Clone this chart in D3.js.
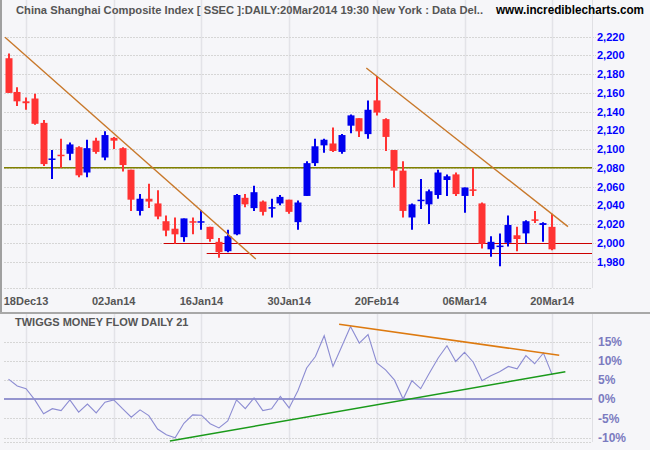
<!DOCTYPE html>
<html>
<head>
<meta charset="utf-8">
<script src="https://cdn.jsdelivr.net/npm/d3@7"></script>
<style>
html,body{margin:0;padding:0;background:#f6f6f9;}
svg{display:block;}
text{font-family:"Liberation Sans",Arial,sans-serif;}
</style>
</head>
<body>
<svg id="chart" width="650" height="450"></svg>
<script>
// ---- data ----
const dates = ["16Dec13","17Dec13","18Dec13","19Dec13","20Dec13","23Dec13","24Dec13","25Dec13","26Dec13","27Dec13","30Dec13","31Dec13",
"02Jan14","03Jan14","06Jan14","07Jan14","08Jan14","09Jan14","10Jan14","13Jan14","14Jan14","15Jan14","16Jan14","17Jan14","20Jan14","21Jan14","22Jan14","23Jan14","24Jan14","27Jan14","28Jan14","29Jan14","30Jan14",
"07Feb14","10Feb14","11Feb14","12Feb14","13Feb14","14Feb14","17Feb14","18Feb14","19Feb14","20Feb14","21Feb14","24Feb14","25Feb14","26Feb14","27Feb14","28Feb14",
"03Mar14","04Mar14","05Mar14","06Mar14","07Mar14","10Mar14","11Mar14","12Mar14","13Mar14","14Mar14","17Mar14","18Mar14","19Mar14","20Mar14"];
const open  = [2197,2161,2151,2154,2128,2089,2094,2095,2102,2075,2109,2091,2112,2101,2078,2034,2047,2042,2023,2015,2006,2023,2022,2017,2001,1991,2009,2048,2037,2044,2037,2042,2046,2022,2050,2085,2104,2106,2097,2125,2133,2116,2152,2132,2099,2077,2027,2045,2041,2051,2067,2073,2050,2057,2042,1993,1996,2000,2008,2010,2025,2019,2017];
const high  = [2202,2166,2155,2159,2131,2099,2111,2107,2103,2110,2112,2119,2113,2102,2078,2052,2063,2056,2029,2027,2026,2027,2035,2017,2005,2014,2052,2052,2061,2045,2047,2051,2046,2045,2087,2111,2111,2123,2116,2137,2133,2152,2178,2133,2099,2087,2042,2068,2057,2078,2073,2075,2059,2080,2043,2007,2010,2029,2017,2024,2034,2022,2031];
const low   = [2160,2146,2142,2126,2082,2068,2080,2088,2070,2070,2095,2088,2100,2076,2034,2029,2037,2025,2007,1999,2001,2009,2014,2001,1984,1990,2008,2038,2034,2029,2027,2040,2031,2014,2050,2082,2096,2097,2095,2117,2113,2111,2136,2098,2059,2027,2014,2036,2020,2047,2050,2050,2032,2050,1994,1985,1975,1996,1991,1999,2021,2001,1992];
const close = [2160,2151,2149,2127,2084,2090,2093,2105,2072,2101,2097,2115,2109,2083,2046,2047,2044,2028,2013,2009,2026,2022,2023,2004,1990,2007,2051,2041,2054,2033,2038,2049,2033,2043,2085,2103,2110,2098,2115,2136,2119,2142,2139,2113,2077,2034,2041,2046,2055,2075,2071,2052,2059,2056,1999,2001,1997,2019,2004,2023,2024,2021,1993];
const tmf = [5.2,3.4,2.7,-0.2,-3.8,-2.5,-3.0,-0.2,-3.4,-1.3,-3.6,-0.8,-0.2,-2.5,-4.7,-2.8,-4.3,-7.8,-9.3,-10.1,-6.3,-4.1,-4.2,-6.4,-7.5,-5.7,-0.2,-2.5,0.3,-3.0,-2.5,0.7,-2.3,2.2,8.1,11.1,16.5,8.5,13.7,18.9,14.6,16.8,9.4,7.6,5.0,0.0,4.8,2.7,6.8,10.7,13.9,9.8,12.2,9.6,4.8,6.1,7.1,8.5,7.9,11.3,9.2,12.0,6.3];
const tickDates = ["18Dec13","02Jan14","16Jan14","30Jan14","20Feb14","06Mar14","20Mar14"];
const priceTicks = [1980,2000,2020,2040,2060,2080,2100,2120,2140,2160,2180,2200,2220];
const tmfTicks = [-10,-5,0,5,10,15];
// trend / support lines (bar index, value)
const resistance1 = [[-0.4,2219.4],[28.2,1982.7]];
const resistance2 = [[40.8,2186.6],[63.8,2017.2]];
const hLevel = 2080;
const supports = [[17.7,2000],[22.6,1989]];
const tmfUpper = [[37.7,19.5],[62.8,11.4]];
const tmfLower = [[18.4,-10.9],[63.5,7.1]];
const titleText = "China Shanghai Composite Index [ SSEC ]:DAILY:20Mar2014 19:30 New York : Data Del..";
const siteText = "www.incrediblecharts.com";
const panelTitle = "TWIGGS MONEY FLOW DAILY 21";

// ---- layout ----
const svg = d3.select("#chart");
const L = 4, R = 592;
const xi = d3.scaleLinear().domain([0, dates.length - 1]).range([8.5, 552.2]);
const y = d3.scaleLinear().domain([1980, 2220]).range([261.5, 36.7]);
const y2 = d3.scaleLinear().domain([-10, 15]).range([437.5, 341.5]);

svg.append("rect").attr("width",650).attr("height",450).attr("fill","#f6f6f9");

// vertical grid
tickDates.forEach(td => {
  const xx = Math.round(xi(dates.indexOf(td))) + 0.5;
  svg.append("line").attr("x1",xx).attr("x2",xx).attr("y1",0).attr("y2",288)
    .attr("stroke","#e3e3e8").attr("stroke-width",1.5);
  svg.append("line").attr("x1",xx).attr("x2",xx).attr("y1",314).attr("y2",442)
    .attr("stroke","#e3e3e8").attr("stroke-width",1.5);
});
// horizontal grid main
priceTicks.forEach(p => {
  const yy = Math.round(y(p)) + 0.5;
  svg.append("line").attr("x1",L).attr("x2",R+4).attr("y1",yy).attr("y2",yy)
    .attr("stroke","#d6d6d6").attr("stroke-dasharray","2,1");
});
svg.append("line").attr("x1",L).attr("x2",R).attr("y1",288.5).attr("y2",288.5)
  .attr("stroke","#d6d6d6").attr("stroke-dasharray","2,1");
// frame
svg.append("line").attr("x1",592.5).attr("x2",592.5).attr("y1",0).attr("y2",288).attr("stroke","#e0e0e4");
svg.append("line").attr("x1",592.5).attr("x2",592.5).attr("y1",314).attr("y2",442).attr("stroke","#e0e0e4");
svg.append("line").attr("x1",1).attr("x2",1).attr("y1",0).attr("y2",313).attr("stroke","#a0a0a0").attr("stroke-width",2);
svg.append("line").attr("x1",0).attr("x2",650).attr("y1",313).attr("y2",313).attr("stroke","#a8a8a8").attr("stroke-width",2);
svg.append("line").attr("x1",L).attr("x2",R).attr("y1",442.5).attr("y2",442.5)
  .attr("stroke","#d6d6d6").attr("stroke-dasharray","2,1");

// horizontal level lines
svg.append("line").attr("x1",L).attr("x2",R).attr("y1",y(hLevel)).attr("y2",y(hLevel))
  .attr("stroke","#808000").attr("stroke-width",1.5);
supports.forEach(s => {
  const yy = Math.round(y(s[1])) + 0.5;
  svg.append("line").attr("x1",xi(s[0])).attr("x2",R).attr("y1",yy).attr("y2",yy)
    .attr("stroke","#cc0000").attr("stroke-width",1);
});

// candles
const bars = svg.append("g");
dates.forEach((d,i) => {
  const up = close[i] >= open[i];
  const col = up ? "#0000ee" : "#ff3333";
  const cx = Math.round(xi(i));
  bars.append("line").attr("x1",cx).attr("x2",cx).attr("y1",y(high[i])).attr("y2",y(low[i]))
    .attr("stroke",col).attr("stroke-width",2);
  const top = y(Math.max(open[i],close[i])), bot = y(Math.min(open[i],close[i]));
  bars.append("rect").attr("x",cx-3.5).attr("y",top).attr("width",7).attr("height",Math.max(1.5,bot-top))
    .attr("fill",col);
});

// resistance trendlines
[resistance1,resistance2].forEach(t => {
  svg.append("line").attr("x1",xi(t[0][0])).attr("y1",y(t[0][1])).attr("x2",xi(t[1][0])).attr("y2",y(t[1][1]))
    .attr("stroke","#c8782a").attr("stroke-width",1.4);
});

// y axis labels
const yAxis = d3.axisRight(y).tickValues(priceTicks).tickFormat(d3.format(",")).tickSize(0).tickPadding(0);
const gy = svg.append("g").attr("transform","translate(597,0)").call(yAxis);
gy.select(".domain").remove();
gy.selectAll("text").attr("fill","#0000ff").attr("font-size","11px").attr("font-weight","bold")
  .attr("font-family","Liberation Sans, Arial, sans-serif");

// date labels
tickDates.forEach(td => {
  svg.append("text").attr("x",xi(dates.indexOf(td))).attr("y",305).attr("text-anchor","middle")
    .attr("font-size","11px").attr("font-weight","bold").attr("fill","#555").text(td);
});

// title
svg.append("text").attr("x",16).attr("y",14).attr("font-size","11px").attr("font-weight","bold")
  .attr("fill","#555").attr("textLength",467).attr("lengthAdjust","spacingAndGlyphs").text(titleText);
svg.append("text").attr("x",496).attr("y",14).attr("font-size","12px").attr("font-weight","bold")
  .attr("fill","#000").attr("textLength",148).attr("lengthAdjust","spacingAndGlyphs").text(siteText);

// ---- indicator panel ----
tmfTicks.forEach(v => {
  if (v === 0) return;
  const yy = Math.round(y2(v)) + 0.5;
  svg.append("line").attr("x1",L).attr("x2",R).attr("y1",yy).attr("y2",yy)
    .attr("stroke","#d6d6d6").attr("stroke-dasharray","2,1");
});
svg.append("line").attr("x1",L).attr("x2",R).attr("y1",y2(0)).attr("y2",y2(0))
  .attr("stroke","#7474c0").attr("stroke-width",1.5);
svg.append("text").attr("x",15).attr("y",326).attr("font-size","11px").attr("font-weight","bold")
  .attr("fill","#555").text(panelTitle);

const line = d3.line().x((d,i) => xi(i)).y(d => y2(d));
svg.append("path").datum(tmf).attr("d",line).attr("fill","none")
  .attr("stroke","#8c8cd2").attr("stroke-width",1.1);

svg.append("line").attr("x1",xi(tmfUpper[0][0])).attr("y1",y2(tmfUpper[0][1])).attr("x2",xi(tmfUpper[1][0])).attr("y2",y2(tmfUpper[1][1]))
  .attr("stroke","#dd7a10").attr("stroke-width",1.5);
svg.append("line").attr("x1",xi(tmfLower[0][0])).attr("y1",y2(tmfLower[0][1])).attr("x2",xi(tmfLower[1][0])).attr("y2",y2(tmfLower[1][1]))
  .attr("stroke","#1a9a1a").attr("stroke-width",1.5);

const y2Axis = d3.axisRight(y2).tickValues(tmfTicks).tickFormat(d => d + "%").tickSize(0).tickPadding(0);
const gy2 = svg.append("g").attr("transform","translate(598,0)").call(y2Axis);
gy2.select(".domain").remove();
gy2.selectAll("text").attr("fill","#7b7bc0").attr("font-size","12px").attr("font-weight","bold")
  .attr("font-family","Liberation Serif, Times New Roman, serif");
</script>
</body>
</html>
